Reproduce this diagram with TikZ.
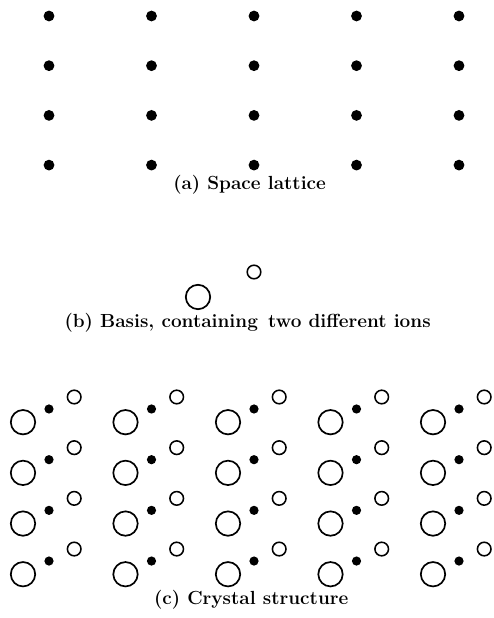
\documentclass[tikz,border=0pt]{standalone}
\usepackage{tikz}
\usetikzlibrary{positioning, calc}

\tikzset{
  latpt/.style={circle, fill=black, inner sep=0pt, minimum size=2.7mm},
  ionpt/.style={circle, fill=black, inner sep=0pt, minimum size=2.3mm},
  bigion/.style={circle, draw=black, line width=1.2pt, inner sep=0pt, minimum size=6.1mm},
  smallion/.style={circle, draw=black, line width=1.1pt, inner sep=0pt, minimum size=3.4mm},
  capt/.style={font=\fontsize{13.5}{16}\selectfont\bfseries}
}

\begin{document}
\begin{tikzpicture}[x=1cm, y=1cm]

  \useasboundingbox (0,0) rectangle (12.325,15.45);

  %% (a) space lattice
  \foreach \i in {0,...,4}{
    \foreach \j in {0,...,3}{
      \node[latpt] (lat-\i-\j) at ({1.225+2.5625*\i},{15.05-1.2425*\j}) {};
    }
  }
  \node[capt] (capA) at (6.24,10.825) {(a) Space lattice};

  %% (b) basis
  \node[bigion] (basisBig) at (4.95,8.025) {};
  \node[smallion] (basisSmall) at (6.35,8.65) {};
  \node[capt] (capB) at (6.19,7.375) {(b) Basis, containing\, two different ions};

  %% (c) crystal structure = lattice + basis
  \foreach \i in {0,...,4}{
    \foreach \j in {0,...,3}{
      \node[ionpt] (cry-\i-\j) at ({1.225+2.5625*\i},{5.225-1.267*\j}) {};
      \node[bigion] (cryBig-\i-\j) at ($(cry-\i-\j)+(-0.65,-0.33)$) {};
      \node[smallion] (crySmall-\i-\j) at ($(cry-\i-\j)+(0.63,0.3)$) {};
    }
  }
  \node[capt] (capC) at (6.28,0.45) {(c) Crystal structure};

\end{tikzpicture}
\end{document}
